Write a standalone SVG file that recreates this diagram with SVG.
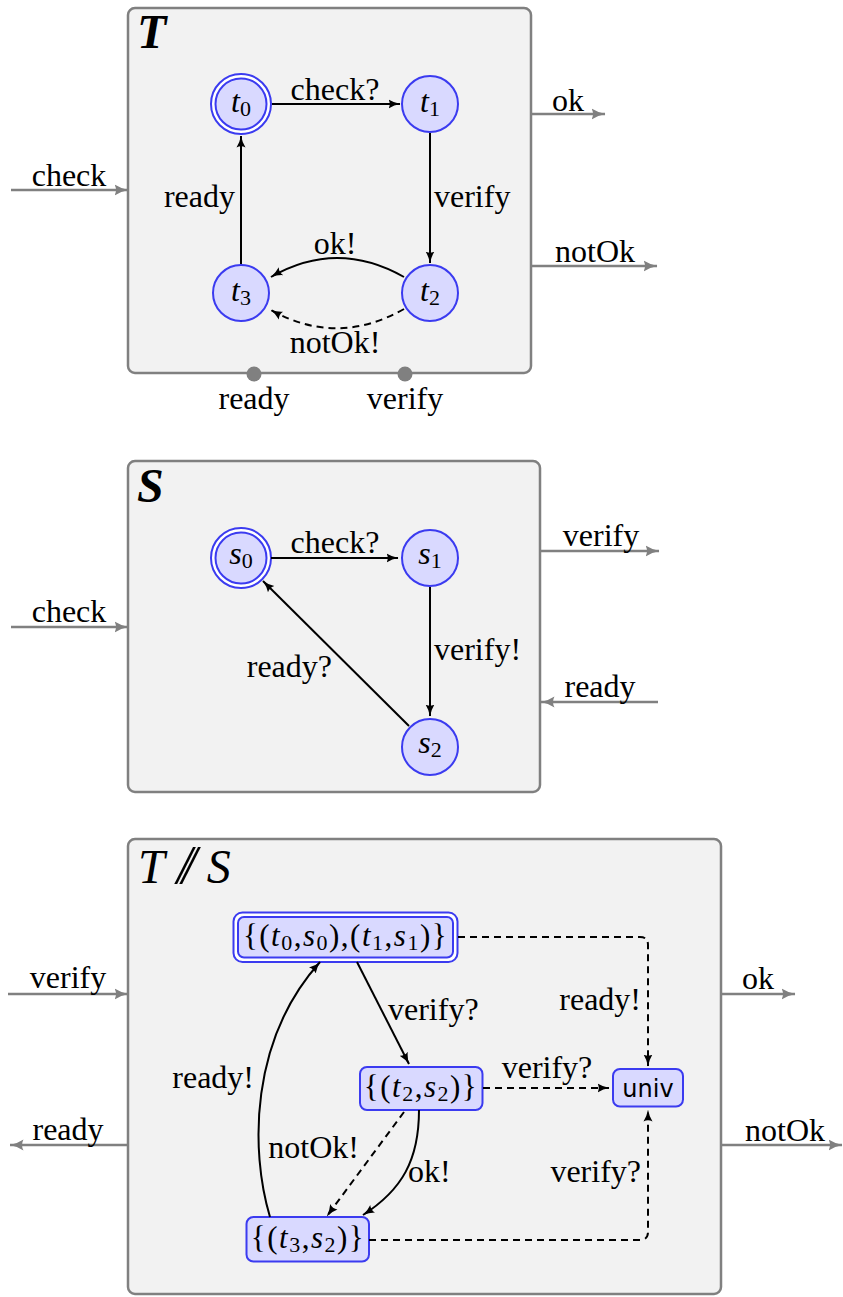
<svg xmlns="http://www.w3.org/2000/svg" width="843" height="1297" viewBox="0 0 843 1297">
<style>
text{font-family:"Liberation Serif","Times New Roman",serif;font-size:32px;fill:#000}
.box{fill:#f2f2f2;stroke:#808080;stroke-width:2.5}
.title{font-size:48px;font-style:italic;font-weight:bold}
.st{fill:#d9d9ff;stroke:#3b3bf0;stroke-width:2}
.gap{fill:#ffffff;stroke:#3b3bf0;stroke-width:2}
.e{fill:none;stroke:#000;stroke-width:2;marker-end:url(#ah)}
.d{stroke-dasharray:7,5}
.p{fill:none;stroke:#808080;stroke-width:2.5;marker-end:url(#gh)}
.m{text-anchor:middle}
.s{text-anchor:start}
.n{text-anchor:end}
.i{font-style:italic}
.sub{font-size:22px}
.lbl{font-size:31px;letter-spacing:1.5px}
.sans{font-family:"DejaVu Sans","Liberation Sans",sans-serif;font-size:24px}
</style>
<defs>
<marker id="ah" viewBox="0 0 12 10" markerWidth="12" markerHeight="10" refX="11.5" refY="5" orient="auto" markerUnits="userSpaceOnUse">
<path d="M0,0.5 Q5,3.8 12,5 Q5,6.2 0,9.5 Q2.5,5 0,0.5 Z" fill="#000"/>
</marker>
<marker id="gh" viewBox="0 0 14 12" markerWidth="14" markerHeight="12" refX="13.5" refY="6" orient="auto" markerUnits="userSpaceOnUse">
<path d="M0,0.5 Q6,4.5 14,6 Q6,7.5 0,11.5 Q3,6 0,0.5 Z" fill="#808080"/>
</marker>
</defs>

<!-- ===== Box T ===== -->
<g id="boxT">
<rect class="box" x="128" y="8" width="403" height="365" rx="7"/>
<text class="title" x="137" y="48">T</text>
<circle cx="254" cy="374" r="7.5" fill="#808080"/>
<circle cx="405" cy="374" r="7.5" fill="#808080"/>
</g>
<g id="t0"><circle class="gap" cx="241" cy="104" r="30"/><circle class="st" cx="241" cy="104" r="25.5"/><text class="m" x="241" y="112"><tspan class="i">t</tspan><tspan class="sub" dy="4">0</tspan></text></g>
<g id="t1"><circle class="st" cx="430" cy="104" r="28"/><text class="m" x="430" y="112"><tspan class="i">t</tspan><tspan class="sub" dy="4">1</tspan></text></g>
<g id="t2"><circle class="st" cx="430" cy="293" r="28"/><text class="m" x="430" y="301"><tspan class="i">t</tspan><tspan class="sub" dy="4">2</tspan></text></g>
<g id="t3"><circle class="st" cx="241" cy="293" r="28"/><text class="m" x="241" y="301"><tspan class="i">t</tspan><tspan class="sub" dy="4">3</tspan></text></g>

<!-- ===== Box S ===== -->
<g id="boxS">
<rect class="box" x="128" y="461" width="412" height="331" rx="7"/>
<text class="title" x="137" y="502">S</text>
</g>
<g id="s0"><circle class="gap" cx="241" cy="558" r="30"/><circle class="st" cx="241" cy="558" r="25.5"/><text class="m" x="241" y="564"><tspan class="i">s</tspan><tspan class="sub" dy="4">0</tspan></text></g>
<g id="s1"><circle class="st" cx="430" cy="558" r="28"/><text class="m" x="430" y="564"><tspan class="i">s</tspan><tspan class="sub" dy="4">1</tspan></text></g>
<g id="s2"><circle class="st" cx="430" cy="747" r="28"/><text class="m" x="430" y="753"><tspan class="i">s</tspan><tspan class="sub" dy="4">2</tspan></text></g>

<!-- ===== Box T // S ===== -->
<g id="boxTS">
<rect class="box" x="128" y="839" width="593" height="455" rx="7"/>
<text x="138" y="883" style="font-size:48px;font-style:italic"><tspan>T</tspan><tspan dx="12" font-size="54" letter-spacing="-10">//</tspan><tspan dx="20">S</tspan></text>
</g>
<g id="n_t0s0_t1s1">
<rect class="gap" x="233.5" y="912.5" width="224" height="49.5" rx="9"/>
<rect class="st" x="238" y="917" width="215" height="40.5" rx="6"/>
<text class="m lbl" x="345.5" y="946">{(<tspan class="i">t</tspan><tspan class="sub" dy="4">0</tspan><tspan dy="-4">,</tspan><tspan class="i">s</tspan><tspan class="sub" dy="4">0</tspan><tspan dy="-4">),(</tspan><tspan class="i">t</tspan><tspan class="sub" dy="4">1</tspan><tspan dy="-4">,</tspan><tspan class="i">s</tspan><tspan class="sub" dy="4">1</tspan><tspan dy="-4">)}</tspan></text>
</g>
<g id="n_t2s2">
<rect class="st" x="360" y="1067" width="122.5" height="43" rx="7"/>
<text class="m lbl" x="421" y="1097">{(<tspan class="i">t</tspan><tspan class="sub" dy="4">2</tspan><tspan dy="-4">,</tspan><tspan class="i">s</tspan><tspan class="sub" dy="4">2</tspan><tspan dy="-4">)}</tspan></text>
</g>
<g id="n_univ">
<rect class="st" x="613" y="1069" width="70" height="37.5" rx="7"/>
<text class="m sans" x="648" y="1097">univ</text>
</g>
<g id="n_t3s2">
<rect class="st" x="246.5" y="1217" width="122.5" height="44.5" rx="7"/>
<text class="m lbl" x="308" y="1248">{(<tspan class="i">t</tspan><tspan class="sub" dy="4">3</tspan><tspan dy="-4">,</tspan><tspan class="i">s</tspan><tspan class="sub" dy="4">2</tspan><tspan dy="-4">)}</tspan></text>
</g>

<!-- ===== Connectors ===== -->
<g id="connectors">
<!-- T -->
<path class="e" d="M272,104 L400,104"/>
<path class="e" d="M430,133 L430,263"/>
<path class="e" d="M241,264 L241,136"/>
<path class="e" d="M404,277 Q337,239 271,277"/>
<path class="e d" d="M404,309 Q337,347 271,310"/>
<text class="m" x="335" y="100">check?</text>
<text class="s" x="434" y="207">verify</text>
<text class="n" x="235" y="207">ready</text>
<text class="m" x="335" y="254">ok!</text>
<text class="m" x="335" y="353">notOk!</text>
<path class="p" d="M11,190 L128,190"/>
<text class="m" x="69" y="186">check</text>
<path class="p" d="M531,114 L605,114"/>
<text class="m" x="568" y="111">ok</text>
<path class="p" d="M531,266 L657,266"/>
<text class="m" x="595" y="262">notOk</text>
<text class="m" x="254" y="409">ready</text>
<text class="m" x="405" y="409">verify</text>
<!-- S -->
<path class="e" d="M271,558 L398,558"/>
<path class="e" d="M430,587 L430,716"/>
<path class="e" d="M409,726 L263,581"/>
<text class="m" x="335" y="553">check?</text>
<text class="s" x="434" y="660">verify!</text>
<text class="n" x="332" y="677">ready?</text>
<path class="p" d="M11,627 L128,627"/>
<text class="m" x="69" y="622">check</text>
<path class="p" d="M541,551 L659,551"/>
<text class="m" x="601" y="546">verify</text>
<path class="p" d="M658,702 L541,702"/>
<text class="m" x="600" y="697">ready</text>
<!-- T // S -->
<path class="e" d="M357,962 L409,1064"/>
<path class="e d" d="M458,937 L640,937 Q648,937 648,945 L648,1066"/>
<path class="e d" d="M483,1088 L609,1088"/>
<path class="e d" d="M369,1240 L640,1240 Q648,1240 648,1232 L648,1110"/>
<path class="e" d="M270,1217 C250,1150 250,1040 320,962"/>
<path class="e" d="M419,1110 C419,1160 402,1190 363,1215"/>
<path class="e d" d="M404,1112 L327,1216"/>
<text class="s" x="388" y="1020">verify?</text>
<text class="n" x="641" y="1010">ready!</text>
<text class="m" x="547" y="1078">verify?</text>
<text class="n" x="641" y="1182">verify?</text>
<text class="n" x="254" y="1088">ready!</text>
<text class="s" x="408" y="1182">ok!</text>
<text class="n" x="359" y="1158">notOk!</text>
<path class="p" d="M8,994 L128,994"/>
<text class="m" x="68" y="988">verify</text>
<path class="p" d="M128,1145 L10,1145"/>
<text class="m" x="68" y="1140">ready</text>
<path class="p" d="M722,994 L795,994"/>
<text class="m" x="758" y="989">ok</text>
<path class="p" d="M722,1145 L842,1145"/>
<text class="m" x="785" y="1141">notOk</text>
</g>
</svg>
